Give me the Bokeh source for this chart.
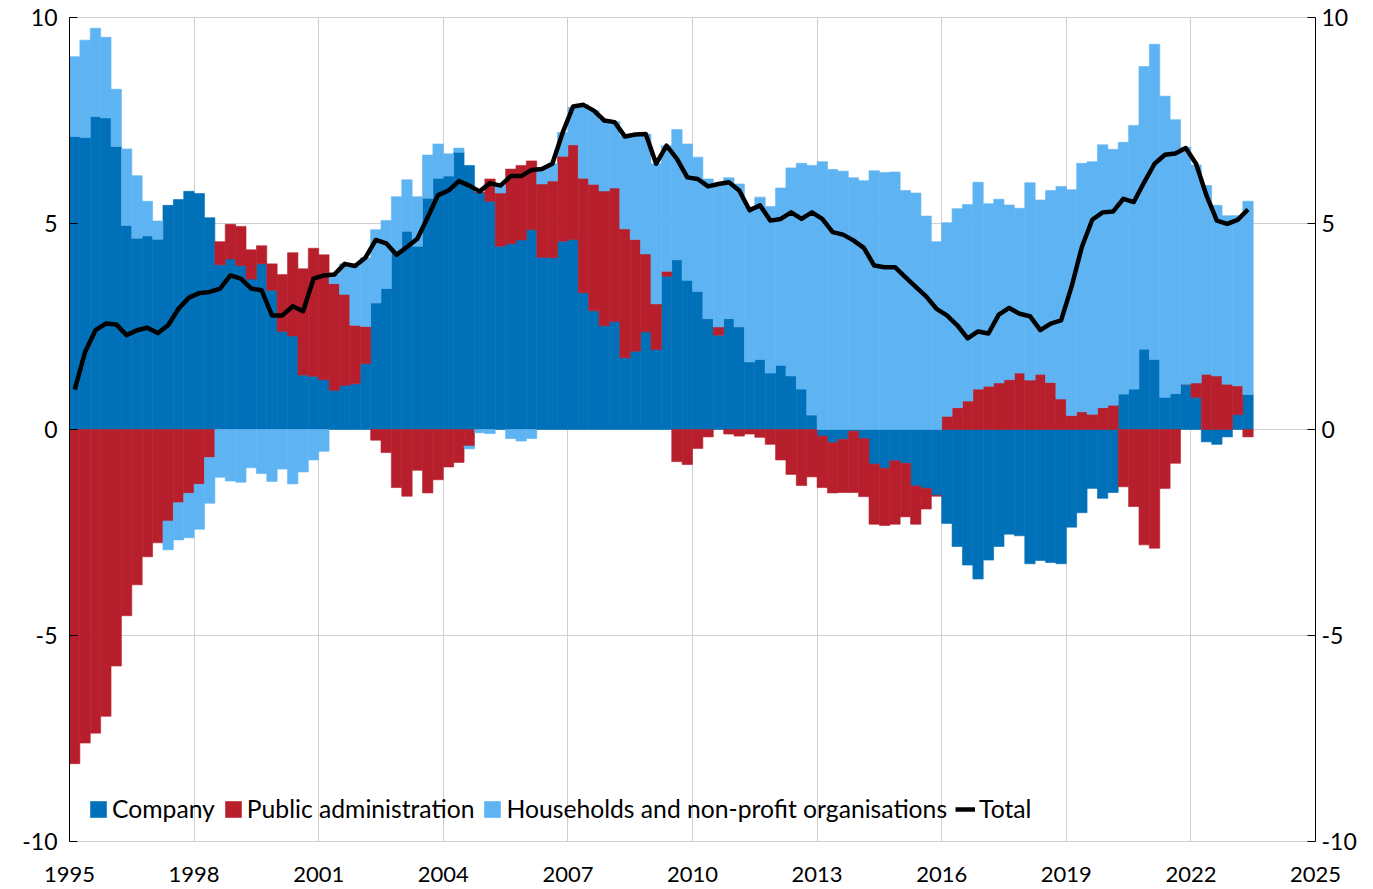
import numpy as np
from bokeh.plotting import figure
from bokeh.models import Range1d, LinearAxis, FixedTicker, Legend, LegendItem
from bokeh.embed import file_html
from bokeh.resources import INLINE

start_year = 1995
n_quarters = 114  # 1995Q1 .. 2023Q2

company = [7.11, 7.09, 7.60, 7.56, 6.87, 4.95, 4.64, 4.70, 4.62, 5.44,
           5.58, 5.78, 5.73, 5.14, 4.00, 4.14, 3.98, 3.65, 4.02, 3.38,
           2.38, 2.27, 1.32, 1.29, 1.21, 0.95, 1.07, 1.11, 1.60, 3.07,
           3.42, 4.29, 4.81, 4.45, 5.61, 6.10, 6.15, 6.73, 6.41, 5.75,
           5.54, 4.45, 4.51, 4.60, 4.85, 4.18, 4.17, 4.57, 4.61, 3.32,
           2.88, 2.52, 2.62, 1.74, 1.90, 2.37, 1.94, 3.72, 4.12, 3.62,
           3.35, 2.69, 2.29, 2.69, 2.49, 1.64, 1.70, 1.37, 1.56, 1.30,
           0.98, 0.35, -0.16, -0.32, -0.24, -0.04, -0.22, -0.84, -0.94, -0.76,
           -0.82, -1.37, -1.43, -1.60, -2.28, -2.84, -3.29, -3.63, -3.17, -2.84,
           -2.54, -2.58, -3.26, -3.18, -3.23, -3.26, -2.37, -2.02, -1.43, -1.67,
           -1.53, 0.86, 0.98, 1.95, 1.70, 0.78, 0.87, 1.10, 0.78, -0.30,
           -0.36, -0.18, 0.36, 0.85]

public = [-8.11, -7.61, -7.37, -6.96, -5.74, -4.52, -3.77, -3.09, -2.75, -2.22,
          -1.78, -1.55, -1.33, -0.68, 0.56, 0.84, 0.95, 0.71, 0.44, 0.64,
          1.38, 2.02, 2.58, 3.11, 3.03, 2.59, 2.21, 1.42, 0.90, -0.26,
          -0.56, -1.41, -1.62, -0.99, -1.54, -1.22, -0.91, -0.80, -0.40, 0.00,
          0.54, 1.29, 1.81, 1.81, 1.67, 1.78, 1.86, 2.06, 2.30, 2.78,
          3.07, 3.27, 3.24, 3.13, 2.71, 1.89, 1.11, 0.12, -0.78, -0.85,
          -0.46, -0.18, 0.20, -0.11, -0.16, -0.11, -0.19, -0.36, -0.74, -1.09,
          -1.36, -1.15, -1.25, -1.22, -1.29, -1.49, -1.41, -1.46, -1.39, -1.54,
          -1.30, -0.93, -0.50, -0.02, 0.32, 0.53, 0.69, 0.98, 1.05, 1.13,
          1.21, 1.37, 1.20, 1.34, 1.14, 0.74, 0.34, 0.43, 0.37, 0.53,
          0.59, -1.39, -1.87, -2.80, -2.88, -1.43, -0.82, 0.00, 0.35, 1.34,
          1.30, 1.10, 0.70, -0.18]

households = [1.94, 2.36, 2.14, 1.96, 1.39, 1.86, 1.52, 0.84, 0.44, -0.70,
              -0.90, -1.08, -1.09, -1.11, -1.16, -1.25, -1.28, -0.93, -1.07, -1.26,
              -0.96, -1.32, -1.03, -0.74, -0.53, 0.22, 0.74, 1.44, 1.67, 1.78,
              1.65, 1.36, 1.25, 1.20, 1.05, 0.83, 0.54, 0.10, -0.07, -0.08,
              -0.10, 0.18, -0.22, -0.28, -0.22, 0.36, 0.42, 0.58, 0.91, 1.78,
              1.79, 1.71, 1.61, 2.26, 2.56, 2.91, 3.40, 3.05, 3.16, 3.31,
              3.26, 3.39, 3.47, 3.42, 3.47, 3.76, 3.94, 4.04, 4.30, 5.05,
              5.48, 6.06, 6.50, 6.31, 6.27, 6.11, 6.04, 6.28, 6.24, 6.25,
              5.80, 5.74, 5.18, 4.56, 4.70, 4.83, 4.77, 5.02, 4.43, 4.46,
              4.24, 4.00, 4.79, 4.23, 4.66, 5.16, 5.48, 6.03, 6.13, 6.38,
              6.21, 6.11, 6.40, 6.86, 7.65, 7.31, 6.65, 5.75, 5.29, 4.58,
              4.14, 4.09, 4.13, 4.69]

total = [0.97, 1.88, 2.41, 2.57, 2.55, 2.29, 2.41, 2.47, 2.34, 2.53,
         2.93, 3.20, 3.31, 3.34, 3.42, 3.74, 3.66, 3.42, 3.38, 2.77,
         2.77, 2.99, 2.87, 3.66, 3.74, 3.76, 4.02, 3.97, 4.17, 4.60,
         4.52, 4.24, 4.43, 4.63, 5.15, 5.69, 5.80, 6.03, 5.92, 5.78,
         5.98, 5.92, 6.15, 6.15, 6.30, 6.32, 6.45, 7.21, 7.84, 7.88,
         7.74, 7.50, 7.46, 7.11, 7.16, 7.17, 6.45, 6.89, 6.57, 6.12,
         6.08, 5.90, 5.96, 6.00, 5.80, 5.32, 5.44, 5.07, 5.11, 5.27,
         5.11, 5.27, 5.11, 4.79, 4.73, 4.59, 4.41, 3.98, 3.94, 3.94,
         3.70, 3.46, 3.23, 2.93, 2.77, 2.53, 2.21, 2.38, 2.33, 2.79,
         2.95, 2.81, 2.75, 2.41, 2.57, 2.65, 3.46, 4.43, 5.09, 5.27,
         5.29, 5.60, 5.52, 6.00, 6.45, 6.67, 6.70, 6.83, 6.45, 5.68,
         5.07, 4.99, 5.09, 5.34]

x_ticks = [1995, 1998, 2001, 2004, 2007, 2010, 2013, 2016, 2019, 2022, 2025]
y_ticks = [-10, -5, 0, 5, 10]
y_tick_labels = ["-10", "-5", "0", "5", "10"]

series_names = ["Company", "Public administration", "Households and non-profit organisations"]
series_colors = ["#0070B8", "#B81F2C", "#5EB4F2"]

FONT = "Lato"
TXT = "#000000"
GRID = "#CFCFCF"

x = start_year + 0.25 * np.arange(n_quarters) + 0.125

p = figure(width=1370, height=888, output_backend="svg", toolbar_location=None,
           x_range=Range1d(1995, 2025), y_range=Range1d(-10, 10),
           min_border_left=69, min_border_right=55, min_border_top=17, min_border_bottom=47)
p.background_fill_color = "white"
p.border_fill_color = "white"
p.outline_line_color = GRID

pos_base = np.zeros(n_quarters)
neg_base = np.zeros(n_quarters)
bar_renderers = []
for vals, col in zip([company, public, households], series_colors):
    v = np.array(vals, dtype=float)
    positive = v >= 0
    bottom = np.where(positive, pos_base, neg_base)
    top = bottom + v
    pos_base = np.where(positive, top, pos_base)
    neg_base = np.where(positive, neg_base, top)
    r = p.vbar(x=x, width=0.25, bottom=bottom, top=top, fill_color=col,
               line_color=col, line_width=0.6)
    bar_renderers.append(r)

line_r = p.line(x, total, line_color="black", line_width=4.5, line_join="round")

# axes
p.xaxis.ticker = FixedTicker(ticks=x_ticks)
p.yaxis.ticker = FixedTicker(ticks=y_ticks)
p.xgrid.ticker = FixedTicker(ticks=x_ticks)
p.ygrid.ticker = FixedTicker(ticks=y_ticks)
p.xgrid.grid_line_color = GRID
p.ygrid.grid_line_color = GRID

right_axis = LinearAxis(ticker=FixedTicker(ticks=y_ticks))
p.add_layout(right_axis, "right")

overrides = {t: s for t, s in zip(y_ticks, y_tick_labels)}
for ax in [p.yaxis[0], right_axis]:
    ax.axis_line_color = "black"
    ax.major_tick_in = 8
    ax.major_tick_out = 0
    ax.major_tick_line_color = "black"
    ax.minor_tick_line_color = None
    ax.major_label_text_font = FONT
    ax.major_label_text_font_size = "23px"
    ax.major_label_text_color = TXT
    ax.major_label_overrides = overrides
p.yaxis[0].major_label_standoff = 12
right_axis.major_label_standoff = 6

xa = p.xaxis[0]
xa.axis_line_color = GRID
xa.major_tick_line_color = None
xa.minor_tick_line_color = None
xa.major_label_text_font = FONT
xa.major_label_text_font_size = "22px"
xa.major_label_text_color = TXT
xa.major_label_standoff = 19

legend = Legend(items=[LegendItem(label=series_names[0], renderers=[bar_renderers[0]]),
                       LegendItem(label=series_names[1], renderers=[bar_renderers[1]]),
                       LegendItem(label=series_names[2], renderers=[bar_renderers[2]]),
                       LegendItem(label="Total", renderers=[line_r])],
                orientation="horizontal", location=(19, 18))
legend.background_fill_alpha = 0
legend.border_line_color = None
legend.padding = 0
legend.margin = 0
legend.spacing = 8
legend.glyph_width = 20
legend.glyph_height = 20
legend.label_standoff = 4
legend.label_text_font = FONT
legend.label_text_font_size = "24.7px"
legend.label_text_color = TXT
p.add_layout(legend, "center")

open("out.html", "w").write(file_html(p, INLINE))
